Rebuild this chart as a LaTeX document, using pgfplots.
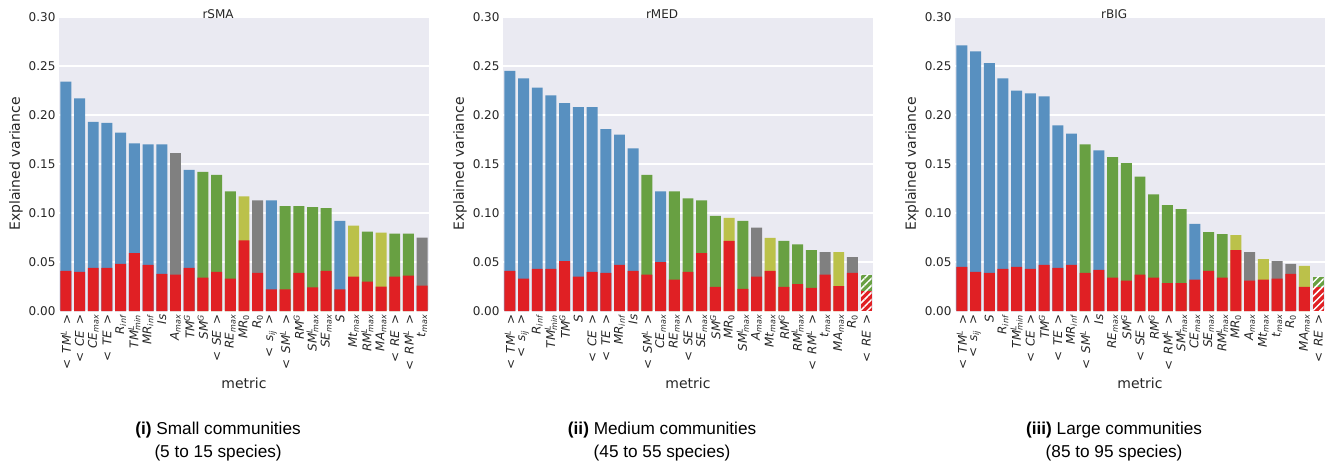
\documentclass[border=0pt]{standalone}
\usepackage{fontspec}
\setmainfont{DejaVu Sans}
\newfontfamily\capfont{Liberation Sans}
\usepackage{pgfplots}
\pgfplotsset{compat=1.18}
\usetikzlibrary{patterns.meta}

\definecolor{cB}{RGB}{88,144,192}
\definecolor{cG}{RGB}{104,160,66}
\definecolor{cY}{RGB}{187,193,74}
\definecolor{cK}{RGB}{128,128,128}
\definecolor{cR}{RGB}{224,32,36}
\definecolor{bg}{RGB}{234,234,242}
\definecolor{txt}{RGB}{38,38,38}

% metric names
\newcommand{\I}[1]{\textit{#1}}
\newcommand{\av}[1]{<\kern0.5em#1\kern0.5em>}
\newcommand{\su}[1]{\textsuperscript{\textit{#1}}}
\newcommand{\lo}[1]{\textsubscript{\textit{#1}}}
\newcommand{\supsub}[2]{\textsuperscript{\rlap{\textit{#1}}}\textsubscript{\textit{#2}}}
\newcommand{\lTML}{\av{\I{TM}\su{L}}}
\newcommand{\lCE}{\av{\I{CE}}}
\newcommand{\lCEmax}{\I{CE}\lo{max}}
\newcommand{\lTE}{\av{\I{TE}}}
\newcommand{\lRinf}{\I{R}\lo{inf}}
\newcommand{\lTMLmin}{\I{TM}\supsub{L}{min}}
\newcommand{\lMRinf}{\I{MR}\lo{inf}}
\newcommand{\lIs}{\I{Is}}
\newcommand{\lAmax}{\I{A}\lo{max}}
\newcommand{\lTMG}{\I{TM}\su{G}}
\newcommand{\lSMG}{\I{SM}\su{G}}
\newcommand{\lSE}{\av{\I{SE}}}
\newcommand{\lREmax}{\I{RE}\lo{max}}
\newcommand{\lMRo}{\I{MR}\textsubscript{0}}
\newcommand{\lRo}{\I{R}\textsubscript{0}}
\newcommand{\lsij}{\av{\I{s}\lo{ij}}}
\newcommand{\lSML}{\av{\I{SM}\su{L}}}
\newcommand{\lRMG}{\I{RM}\su{G}}
\newcommand{\lSMLmax}{\I{SM}\supsub{L}{max}}
\newcommand{\lSEmax}{\I{SE}\lo{max}}
\newcommand{\lS}{\I{S}}
\newcommand{\lMtmax}{\I{Mt}\lo{max}}
\newcommand{\lRMLmax}{\I{RM}\supsub{L}{max}}
\newcommand{\lMAmax}{\I{MA}\lo{max}}
\newcommand{\lRE}{\av{\I{RE}}}
\newcommand{\lRML}{\av{\I{RM}\su{L}}}
\newcommand{\ltmax}{\I{t}\lo{max}}

\tikzset{captxt/.style={font=\capfont\fontsize{17.2}{20}\selectfont, anchor=base, text=black}}

\pgfplotsset{
  panel/.style={
    scale only axis, width=370pt, height=294pt,
    anchor=south west, clip=false,
    xmin=-0.5, xmax=26.5, ymin=0, ymax=0.30,
    axis background/.style={fill=bg},
    axis line style={draw=none},
    major tick style={draw=none}, minor tick style={draw=none},
    ymajorgrids, grid style={white, line width=1.1pt},
    ytick={0,0.05,0.10,0.15,0.20,0.25,0.30},
    yticklabel style={/pgf/number format/.cd, fixed, fixed zerofill, precision=2},
    /pgf/number format/assume math mode=true,
    ticklabel style={font=\fontsize{12}{14}\selectfont, text=txt},
    xtick={0,...,26},
    xticklabel style={rotate=90, anchor=east},
    ylabel={Explained variance}, xlabel={metric},
    label style={font=\fontsize{14}{16}\selectfont, text=txt},
    ylabel style={at={(axis description cs:0,0.5)}, anchor=center, yshift=43pt},
    xlabel style={at={(axis description cs:0.5,0)}, anchor=center, yshift=-72pt},
    title style={at={(axis description cs:0.43,1)}, anchor=base, yshift=-7.5pt,
                 font=\fontsize{12}{14}\selectfont, text=txt},
  },
  bx/.style={ybar, bar width=0.8, bar shift=0pt, draw=none},
  hatch/.style={postaction={pattern={Lines[angle=45,distance=5pt,line width=1.5pt]}, pattern color=white}},
}

\begin{document}
\begin{tikzpicture}
\useasboundingbox (0,0) rectangle (1328pt,464pt);

% small communities
\begin{axis}[panel, at={(59pt,153pt)}, title={rSMA},
  xticklabels={\lTML,\lCE,\lCEmax,\lTE,\lRinf,\lTMLmin,\lMRinf,\lIs,\lAmax,\lTMG,\lSMG,\lSE,\lREmax,\lMRo,\lRo,\lsij,\lSML,\lRMG,\lSMLmax,\lSEmax,\lS,\lMtmax,\lRMLmax,\lMAmax,\lRE,\lRML,\ltmax}]
\addplot[bx, fill=cB] coordinates {(0,0.234)(1,0.217)(2,0.193)(3,0.192)(4,0.182)(5,0.171)(6,0.170)(7,0.170)(9,0.144)(15,0.113)(20,0.092)};
\addplot[bx, fill=cG] coordinates {(10,0.142)(11,0.139)(12,0.122)(16,0.107)(17,0.107)(18,0.106)(19,0.105)(22,0.081)(24,0.079)(25,0.079)};
\addplot[bx, fill=cY] coordinates {(13,0.117)(21,0.087)(23,0.080)};
\addplot[bx, fill=cK] coordinates {(8,0.161)(14,0.113)(26,0.075)};
\addplot[bx, fill=cR] coordinates {(0,0.041)(1,0.040)(2,0.044)(3,0.044)(4,0.048)(5,0.059)(6,0.047)(7,0.038)(8,0.037)(9,0.044)(10,0.034)(11,0.040)(12,0.033)(13,0.072)(14,0.039)(15,0.022)(16,0.022)(17,0.039)(18,0.024)(19,0.041)(20,0.022)(21,0.035)(22,0.030)(23,0.025)(24,0.035)(25,0.036)(26,0.026)};
\node[captxt] at (rel axis cs:0.43,0) [yshift=-123pt] {\textbf{(i)} Small communities};
\node[captxt] at (rel axis cs:0.43,0) [yshift=-146pt] {(5 to 15 species)};
\end{axis}

% medium communities
\begin{axis}[panel, at={(503pt,153pt)}, title={rMED},
  xticklabels={\lTML,\lsij,\lRinf,\lTMLmin,\lTMG,\lS,\lCE,\lTE,\lMRinf,\lIs,\lSML,\lCEmax,\lREmax,\lSE,\lSEmax,\lSMG,\lMRo,\lSMLmax,\lAmax,\lMtmax,\lRMG,\lRMLmax,\lRML,\ltmax,\lMAmax,\lRo,\lRE}]
\addplot[bx, fill=cB] coordinates {(0,0.245)(1,0.2375)(2,0.228)(3,0.220)(4,0.212)(5,0.208)(6,0.208)(7,0.1855)(8,0.180)(9,0.166)(11,0.122)};
\addplot[bx, fill=cG] coordinates {(10,0.139)(12,0.122)(13,0.115)(14,0.113)(15,0.097)(17,0.092)(20,0.0715)(21,0.068)(22,0.062)};
\addplot[bx, fill=cY] coordinates {(16,0.095)(19,0.0745)(24,0.060)};
\addplot[bx, fill=cK] coordinates {(18,0.085)(23,0.060)(25,0.055)};
\addplot[bx, fill=cG, hatch] coordinates {(26,0.037)};
\addplot[bx, fill=cR] coordinates {(0,0.041)(1,0.033)(2,0.043)(3,0.043)(4,0.051)(5,0.035)(6,0.040)(7,0.039)(8,0.047)(9,0.041)(10,0.037)(11,0.050)(12,0.032)(13,0.040)(14,0.059)(15,0.0245)(16,0.0715)(17,0.0225)(18,0.035)(19,0.041)(20,0.0245)(21,0.0275)(22,0.0235)(23,0.037)(24,0.0255)(25,0.039)};
\addplot[bx, fill=cR, hatch] coordinates {(26,0.020)};
\node[captxt] at (rel axis cs:0.43,0) [yshift=-123pt] {\textbf{(ii)} Medium communities};
\node[captxt] at (rel axis cs:0.43,0) [yshift=-146pt] {(45 to 55 species)};
\end{axis}

% large communities
\begin{axis}[panel, at={(955pt,153pt)}, title={rBIG},
  xticklabels={\lTML,\lsij,\lS,\lRinf,\lTMLmin,\lCE,\lTMG,\lTE,\lMRinf,\lSML,\lIs,\lREmax,\lSMG,\lSE,\lRMG,\lRML,\lSMLmax,\lCEmax,\lSEmax,\lRMLmax,\lMRo,\lAmax,\lMtmax,\ltmax,\lRo,\lMAmax,\lRE}]
\addplot[bx, fill=cB] coordinates {(0,0.271)(1,0.265)(2,0.253)(3,0.2375)(4,0.225)(5,0.222)(6,0.219)(7,0.1895)(8,0.181)(10,0.164)(17,0.089)};
\addplot[bx, fill=cG] coordinates {(9,0.170)(11,0.157)(12,0.151)(13,0.137)(14,0.119)(15,0.108)(16,0.104)(18,0.0805)(19,0.0785)};
\addplot[bx, fill=cY] coordinates {(20,0.0775)(22,0.053)(25,0.046)};
\addplot[bx, fill=cK] coordinates {(21,0.060)(23,0.051)(24,0.048)};
\addplot[bx, fill=cG, hatch] coordinates {(26,0.035)};
\addplot[bx, fill=cR] coordinates {(0,0.045)(1,0.040)(2,0.039)(3,0.043)(4,0.045)(5,0.043)(6,0.047)(7,0.044)(8,0.047)(9,0.039)(10,0.042)(11,0.034)(12,0.031)(13,0.037)(14,0.034)(15,0.0285)(16,0.0285)(17,0.032)(18,0.041)(19,0.034)(20,0.062)(21,0.031)(22,0.032)(23,0.033)(24,0.038)(25,0.0245)};
\addplot[bx, fill=cR, hatch] coordinates {(26,0.0245)};
\node[captxt] at (rel axis cs:0.43,0) [yshift=-123pt] {\textbf{(iii)} Large communities};
\node[captxt] at (rel axis cs:0.43,0) [yshift=-146pt] {(85 to 95 species)};
\end{axis}
\end{tikzpicture}
\end{document}
